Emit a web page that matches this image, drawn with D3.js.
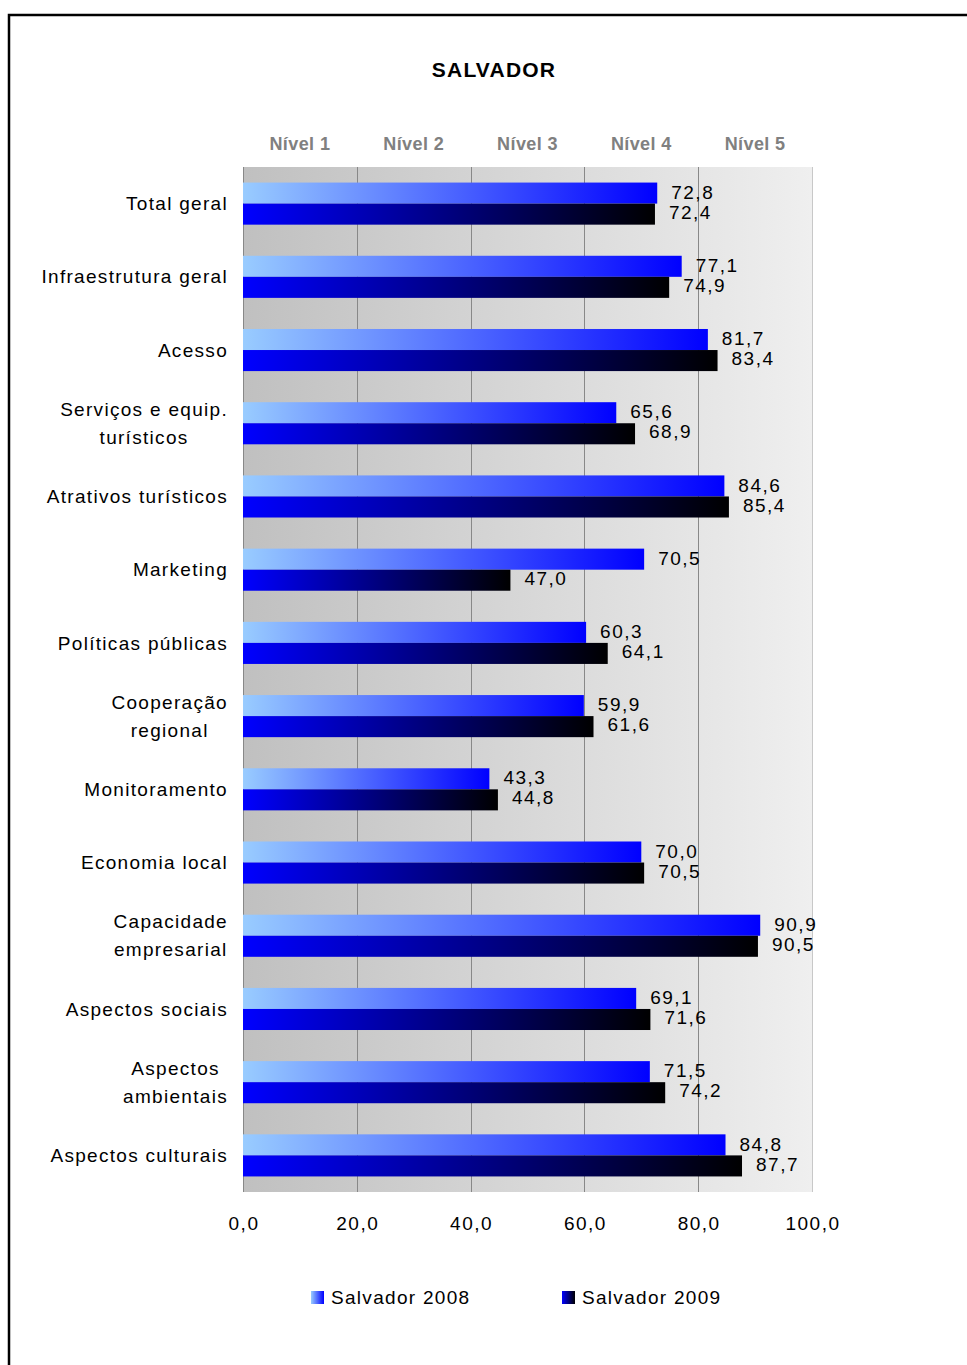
<!DOCTYPE html>
<html><head><meta charset="utf-8">
<script src="https://cdn.jsdelivr.net/npm/d3@7"></script>
<style>body{margin:0;background:#fff;} svg{display:block;font-family:"Liberation Sans",Arial,sans-serif;}</style>
</head><body>
<script>
const categories = [["Total geral"],["Infraestrutura geral"],["Acesso"],["Serviços e equip.","turísticos"],["Atrativos turísticos"],["Marketing"],["Políticas públicas"],["Cooperação","regional"],["Monitoramento"],["Economia local"],["Capacidade","empresarial"],["Aspectos sociais"],["Aspectos","ambientais"],["Aspectos culturais"]];
const values2008 = [72.8,77.1,81.7,65.6,84.6,70.5,60.3,59.9,43.3,70.0,90.9,69.1,71.5,84.8];
const values2009 = [72.4,74.9,83.4,68.9,85.4,47.0,64.1,61.6,44.8,70.5,90.5,71.6,74.2,87.7];
const xTicks = [0,20,40,60,80,100];
const levels = ["Nível 1","Nível 2","Nível 3","Nível 4","Nível 5"];
const seriesNames = ["Salvador 2008","Salvador 2009"];

(function(){
const W=967,H=1365;
const svg=d3.select("body").append("svg").attr("width",W).attr("height",H);
const defs=svg.append("defs");
const g1=defs.append("linearGradient").attr("id","g2008");
g1.append("stop").attr("offset","0%").attr("stop-color","#99ccff");
g1.append("stop").attr("offset","100%").attr("stop-color","#0000ff");
const g2=defs.append("linearGradient").attr("id","g2009");
g2.append("stop").attr("offset","0%").attr("stop-color","#0000ff");
g2.append("stop").attr("offset","100%").attr("stop-color","#000000");
const gb=defs.append("linearGradient").attr("id","gbg");
gb.append("stop").attr("offset","0%").attr("stop-color","#c0c0c0");
gb.append("stop").attr("offset","100%").attr("stop-color","#efefef");

svg.append("path").attr("d",`M9,${H} V15 H${W}`).attr("fill","none").attr("stroke","#000").attr("stroke-width",2.5);

const pL=243,pR=812,pT=167,pB=1192;
const x=d3.scaleLinear().domain([0,100]).range([pL,pR]);
const y=d3.scaleBand().domain(d3.range(categories.length)).range([pT,pB]).paddingInner(0.425).paddingOuter(0.2125);

svg.append("rect").attr("x",pL).attr("y",pT).attr("width",pR-pL).attr("height",pB-pT).attr("fill","url(#gbg)");
svg.append("g").selectAll("line").data(xTicks).join("line")
  .attr("x1",d=>Math.round(x(d))+0.5).attr("x2",d=>Math.round(x(d))+0.5).attr("y1",pT).attr("y2",pB)
  .attr("stroke",d=>d===100?"#c8c8c8":"#888").attr("stroke-width",1);

svg.append("text").attr("x",494).attr("y",77).attr("text-anchor","middle").attr("font-weight","bold")
  .attr("font-size",21).attr("letter-spacing",1.2).text("SALVADOR");

svg.append("g").selectAll("text").data(levels).join("text")
  .attr("x",(d,i)=>x(i*20+10)).attr("y",150).attr("text-anchor","middle")
  .attr("font-weight","bold").attr("font-size",18).attr("letter-spacing",0.4).attr("fill","#808080").text(d=>d);

const bh=y.bandwidth()/2;
const bars=svg.append("g");
bars.selectAll("rect.a").data(values2008).join("rect").attr("class","a")
  .attr("x",x(0)).attr("y",(d,i)=>y(i)).attr("width",d=>x(d)-x(0)).attr("height",bh).attr("fill","url(#g2008)");
bars.selectAll("rect.b").data(values2009).join("rect").attr("class","b")
  .attr("x",x(0)).attr("y",(d,i)=>y(i)+bh).attr("width",d=>x(d)-x(0)).attr("height",bh).attr("fill","url(#g2009)");
const fmt=v=>v.toFixed(1).replace(".",",");
bars.selectAll("text.a").data(values2008).join("text").attr("class","a")
  .attr("x",d=>x(d)+14).attr("y",(d,i)=>y(i)+bh/2-1).attr("dy","0.35em").attr("font-size",19).attr("letter-spacing",1.5).text(fmt);
bars.selectAll("text.b").data(values2009).join("text").attr("class","b")
  .attr("x",d=>x(d)+14).attr("y",(d,i)=>y(i)+bh*1.5-2).attr("dy","0.35em").attr("font-size",19).attr("letter-spacing",1.5).text(fmt);

const cl=svg.append("g").attr("font-size",19).attr("letter-spacing",1.3);
categories.forEach((lines,i)=>{
  const cy=y(i)+bh;
  const t=cl.append("text").attr("fill","#000");
  if(lines.length===1){
    t.attr("x",228).attr("y",cy).attr("dy","0.35em").attr("text-anchor","end").text(lines[0]);
  } else {
    const tmp=cl.append("text");
    const widths=lines.map(l=>{tmp.text(l);return tmp.node().getComputedTextLength();});
    tmp.remove();
    const mw=d3.max(widths);
    const cx=228-mw/2;
    lines.forEach((l,k)=>{
      t.append("tspan").attr("x",cx).attr("y",cy+(k-0.5)*28).attr("dy","0.35em").attr("text-anchor","middle").text(l);
    });
  }
});

svg.append("g").selectAll("text").data(xTicks).join("text")
  .attr("x",d=>x(d)+1).attr("y",1230).attr("text-anchor","middle").attr("font-size",19).attr("letter-spacing",1.5).text(d=>fmt(d));

const leg=[{x:311,fill:"url(#g2008)"},{x:562,fill:"url(#g2009)"}];
leg.forEach((l,i)=>{
  svg.append("rect").attr("x",l.x).attr("y",1291).attr("width",13).attr("height",13).attr("fill",l.fill);
  svg.append("text").attr("x",l.x+20).attr("y",1297).attr("dy","0.35em").attr("font-size",19).attr("letter-spacing",1.3).text(seriesNames[i]);
});
})();
</script>
</body></html>
